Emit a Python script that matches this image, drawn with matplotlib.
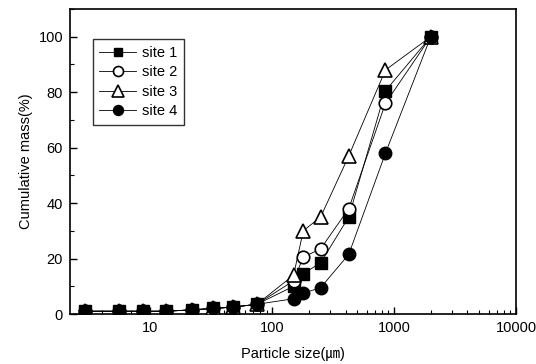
import matplotlib
matplotlib.use("Agg")
import matplotlib.pyplot as plt
from matplotlib.ticker import LogLocator, NullFormatter, MultipleLocator, FixedLocator

plt.rcParams['font.family'] = ['Liberation Sans', 'DejaVu Sans', 'Noto Sans CJK KR']

sizes = [2.9, 5.6, 8.8, 13.5, 22, 33, 48, 75, 150, 180, 250, 425, 850, 2000]
site1 = [1, 1, 1, 1, 1.5, 2, 2.5, 3.5, 10, 14.5, 18.5, 35, 80.5, 100]
site2 = [1, 1, 1, 1, 1.5, 2, 2.5, 3.5, 12, 20.5, 23.5, 38, 76, 100]
site3 = [1, 1, 1, 1, 1.5, 2, 2.5, 3.5, 14, 30, 35, 57, 88, 100]
site4 = [1, 1, 1, 1, 1.5, 2, 2.5, 3.5, 5.5, 7.5, 9.5, 21.5, 58, 100]
labels = ['site 1', 'site 2', 'site 3', 'site 4']

fig = plt.figure(figsize=(5.36, 3.64), dpi=100)
ax = fig.add_axes([70/536, 1-314/364, (516-70)/536, (314-9)/364])

lw = 0.6
ms = 8
ax.plot(sizes, site1, color='black', lw=lw, marker='s', ms=ms, mfc='black', mec='black', label=labels[0], zorder=3)
ax.plot(sizes, site2, color='black', lw=lw, marker='o', ms=ms+1, mfc='white', mec='black', mew=1.2, label=labels[1], zorder=3)
ax.plot(sizes, site3, color='black', lw=lw, marker='^', ms=ms+2, mfc='white', mec='black', mew=1.2, label=labels[2], zorder=3)
ax.plot(sizes, site4, color='black', lw=lw, marker='o', ms=ms+1, mfc='black', mec='black', label=labels[3], zorder=3)

ax.set_xscale('log')
ax.set_xlim(2.2, 10000)
ax.set_ylim(0, 110)
ax.xaxis.set_major_locator(FixedLocator([10, 100, 1000, 10000]))
ax.xaxis.set_major_formatter(matplotlib.ticker.FixedFormatter(['10', '100', '1000', '10000']))
ax.xaxis.set_minor_locator(LogLocator(base=10, subs=range(2, 10)))
ax.xaxis.set_minor_formatter(NullFormatter())
ax.yaxis.set_major_locator(MultipleLocator(20))
ax.yaxis.set_minor_locator(MultipleLocator(10))
ax.tick_params(which='both', direction='in', top=False, right=False, labelsize=10.5)
ax.tick_params(which='major', length=5, width=1, pad=5)
ax.tick_params(which='minor', length=3, width=0.8)
for s in ax.spines.values():
    s.set_linewidth(1.2)

ax.set_xlabel('Particle size(㎛)', fontsize=10.5, labelpad=9)
ax.set_ylabel('Cumulative mass(%)', fontsize=10.5, labelpad=4)

leg = ax.legend(loc='upper left', bbox_to_anchor=(0.035, 0.925), frameon=True, fancybox=False,
                edgecolor='black', fontsize=10.5, handlelength=2.5, borderpad=0.45, labelspacing=0.38,
                handletextpad=0.4, markerscale=0.8)
leg.get_frame().set_linewidth(1.0)

fig.savefig('out.png', dpi=100)
